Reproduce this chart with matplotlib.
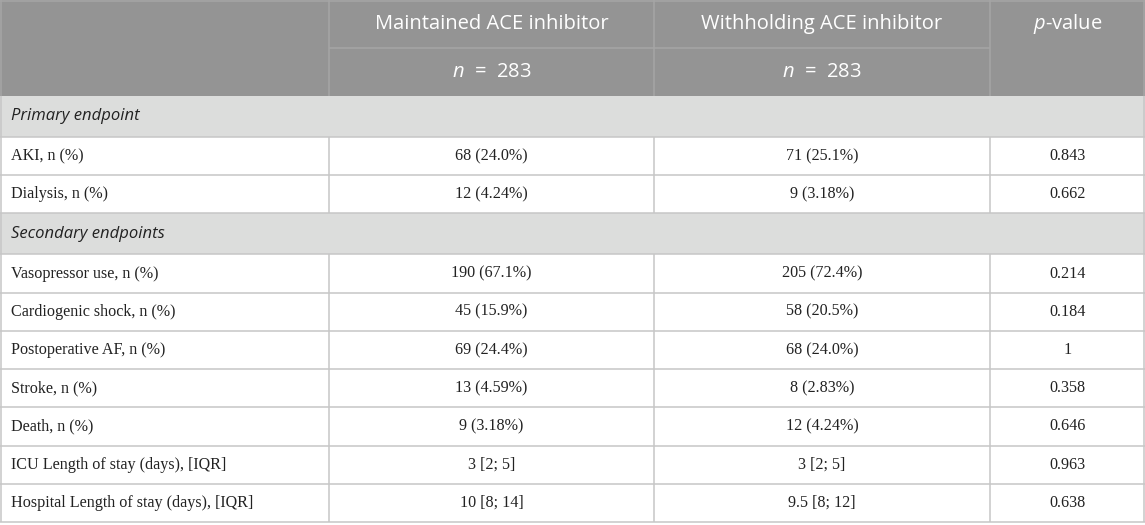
import matplotlib
matplotlib.use("Agg")
import matplotlib.pyplot as plt
from matplotlib.patches import Rectangle

# ---- data ----
col_headers = ["Maintained ACE inhibitor", "Withholding ACE inhibitor", "p-value"]
group_n = ["283", "283"]
section_titles = ["Primary endpoint", "Secondary endpoints"]
section_sizes = [2, 7]
outcome_labels = [
    "AKI, n (%)",
    "Dialysis, n (%)",
    "Vasopressor use, n (%)",
    "Cardiogenic shock, n (%)",
    "Postoperative AF, n (%)",
    "Stroke, n (%)",
    "Death, n (%)",
    "ICU Length of stay (days), [IQR]",
    "Hospital Length of stay (days), [IQR]",
]
maintained = ["68 (24.0%)", "12 (4.24%)", "190 (67.1%)", "45 (15.9%)", "69 (24.4%)",
              "13 (4.59%)", "9 (3.18%)", "3 [2; 5]", "10 [8; 14]"]
withholding = ["71 (25.1%)", "9 (3.18%)", "205 (72.4%)", "58 (20.5%)", "68 (24.0%)",
               "8 (2.83%)", "12 (4.24%)", "3 [2; 5]", "9.5 [8; 12]"]
p_values = ["0.843", "0.662", "0.214", "0.184", "1", "0.358", "0.646", "0.963", "0.638"]

# ---- style / layout ----
W, H = 1145, 525
col_x = [0, 329, 654, 990, 1145]
header_h = 96
section_h = 41
row_h = (522 - header_h - section_h * len(section_titles)) / len(outcome_labels)

HEADER_BG = "#949494"
HEADER_LINE = "#a6a6a6"
SECTION_BG = "#dcdddc"
GRID = "#c6c6c6"
TEXT = "#222222"

plt.rcParams["mathtext.fontset"] = "custom"
plt.rcParams["mathtext.it"] = "Open Sans:italic"
plt.rcParams["mathtext.rm"] = "Open Sans"

fig = plt.figure(figsize=(W / 100, H / 100), dpi=100)
ax = fig.add_axes([0, 0, 1, 1])
ax.set_xlim(0, W)
ax.set_ylim(H, 0)
ax.axis("off")

LW = 1.1

def hline(y, x0, x1, color):
    ax.plot([x0, x1], [y, y], color=color, lw=LW, solid_capstyle="butt", zorder=3)

def vline(x, y0, y1, color):
    ax.plot([x, x], [y0, y1], color=color, lw=LW, solid_capstyle="butt", zorder=3)

# header
ax.add_patch(Rectangle((0, 0), W, header_h, facecolor=HEADER_BG, edgecolor="none", zorder=1))
hline(0.6, 0, W, HEADER_LINE)
hline(header_h / 2, col_x[1], col_x[3], HEADER_LINE)
for x in col_x[1:4]:
    vline(x, 0, header_h, HEADER_LINE)
vline(0.6, 0, header_h, HEADER_LINE)
vline(W - 0.6, 0, header_h, HEADER_LINE)

hfont = dict(family="Open Sans", color="white", fontsize=14.5, ha="center", va="center")
for i in range(2):
    cx = (col_x[i + 1] + col_x[i + 2]) / 2
    ax.text(cx, header_h / 4, col_headers[i], **hfont, zorder=4)
    ax.text(cx, header_h * 3 / 4, r"$\mathit{n}$  =  " + group_n[i], **hfont, zorder=4)
ax.text((col_x[3] + col_x[4]) / 2, header_h / 4,
        r"$\mathit{p}$" + col_headers[2][1:], **hfont, zorder=4)

# body
y = header_h
k = 0
for s, title in enumerate(section_titles):
    ax.add_patch(Rectangle((0, y), W, section_h, facecolor=SECTION_BG, edgecolor="none", zorder=1))
    ax.text(11, y + section_h / 2, title, family="Open Sans", style="italic",
            fontsize=12.0, color=TEXT, ha="left", va="center", zorder=4)
    vline(0.6, y, y + section_h, GRID)
    vline(W - 0.6, y, y + section_h, GRID)
    y += section_h
    hline(y, 0, W, GRID)
    for _ in range(section_sizes[s]):
        y0 = y
        y += row_h
        cy = (y0 + y) / 2
        ax.text(11, cy, outcome_labels[k], family="Liberation Serif", fontsize=11.6,
                color=TEXT, ha="left", va="center", zorder=4)
        for j, vals in enumerate([maintained, withholding, p_values]):
            cx = (col_x[j + 1] + col_x[j + 2]) / 2
            ax.text(cx, cy, vals[k], family="Liberation Serif", fontsize=11.6,
                    color=TEXT, ha="center", va="center", zorder=4)
        for x in col_x[1:4]:
            vline(x, y0, y, GRID)
        vline(0.6, y0, y, GRID)
        vline(W - 0.6, y0, y, GRID)
        hline(y, 0, W, GRID)
        k += 1

fig.savefig("out.png", dpi=100, facecolor="white")
